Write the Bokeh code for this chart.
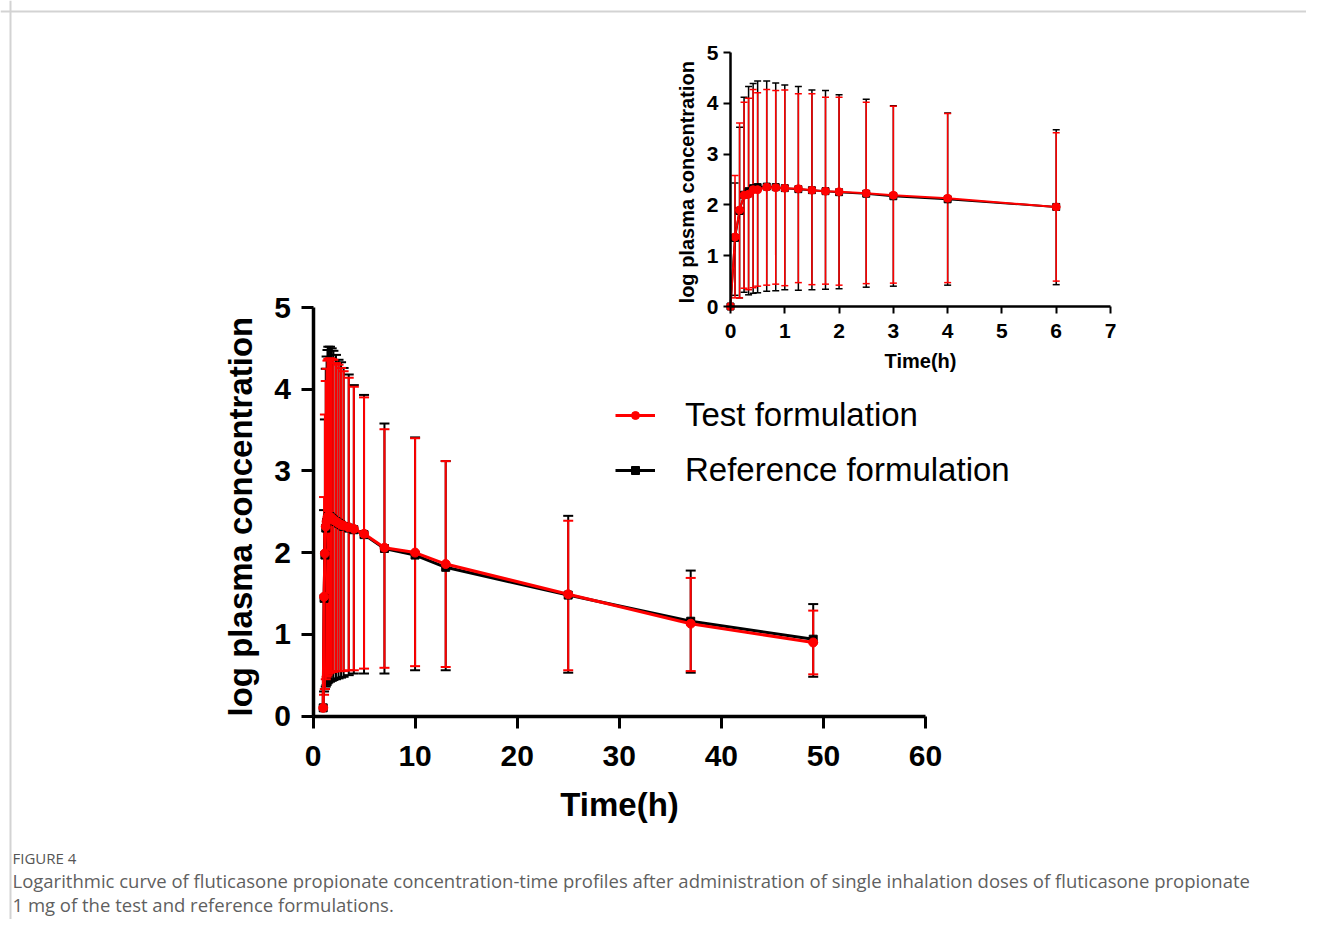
from bokeh.plotting import figure
from bokeh.models import (Range1d, LinearAxis, FixedTicker, ColumnDataSource, Whisker,
                          TeeHead, Legend, LegendItem, Label, Span)
from bokeh.embed import file_html
from bokeh.resources import INLINE

# ---------------- data: main plot ----------------
main_time = [1, 1.083, 1.167, 1.25, 1.333, 1.417, 1.5, 1.667, 1.833, 2, 2.25, 2.5, 2.75, 3,
             3.5, 4, 5, 7, 10, 13, 25, 37, 49]
main_test_mean = [0.10, 1.46, 1.99, 2.32, 2.38, 2.43, 2.45, 2.44, 2.42, 2.40, 2.38, 2.36, 2.34,
                  2.33, 2.31, 2.29, 2.23, 2.06, 2.00, 1.86, 1.49, 1.13, 0.90]
main_test_upper = [0.10, 2.68, 3.69, 4.10, 4.25, 4.35, 4.37, 4.38, 4.37, 4.36, 4.32, 4.30, 4.26,
                   4.22, 4.14, 4.03, 3.90, 3.51, 3.40, 3.12, 2.39, 1.69, 1.29]
main_test_lower = [0.10, 0.26, 0.33, 0.45, 0.48, 0.50, 0.52, 0.53, 0.54, 0.54, 0.55, 0.55, 0.55,
                   0.55, 0.56, 0.56, 0.58, 0.59, 0.61, 0.60, 0.56, 0.55, 0.51]
main_ref_mean = [0.10, 1.44, 1.97, 2.30, 2.37, 2.42, 2.44, 2.44, 2.42, 2.40, 2.38, 2.36, 2.34,
                 2.32, 2.30, 2.28, 2.22, 2.05, 1.97, 1.82, 1.48, 1.16, 0.94]
main_ref_upper = [0.10, 2.52, 3.63, 4.25, 4.40, 4.48, 4.52, 4.52, 4.50, 4.47, 4.42, 4.36, 4.33,
                  4.26, 4.18, 4.05, 3.93, 3.58, 3.41, 3.12, 2.45, 1.78, 1.37]
main_ref_lower = [0.10, 0.30, 0.33, 0.36, 0.38, 0.40, 0.41, 0.42, 0.43, 0.44, 0.45, 0.46, 0.47,
                  0.48, 0.50, 0.52, 0.52, 0.52, 0.56, 0.56, 0.53, 0.53, 0.48]

# ---------------- data: inset ----------------
inset_time = [0, 0.083, 0.167, 0.25, 0.333, 0.417, 0.5, 0.667, 0.833, 1, 1.25, 1.5, 1.75, 2,
              2.5, 3, 4, 6]
inset_test_mean = [0.0, 1.37, 1.90, 2.19, 2.21, 2.30, 2.30, 2.35, 2.34, 2.33, 2.32, 2.29, 2.27,
                   2.26, 2.23, 2.19, 2.13, 1.96]
inset_test_upper = [0.0, 2.58, 3.61, 4.02, 4.10, 4.27, 4.21, 4.27, 4.25, 4.26, 4.19, 4.19, 4.12,
                    4.12, 4.02, 3.94, 3.80, 3.42]
inset_test_lower = [0.0, 0.17, 0.17, 0.36, 0.33, 0.37, 0.40, 0.42, 0.44, 0.41, 0.47, 0.43, 0.44,
                    0.42, 0.45, 0.46, 0.47, 0.50]
inset_ref_mean = [0.0, 1.35, 1.88, 2.20, 2.27, 2.33, 2.35, 2.36, 2.35, 2.33, 2.31, 2.29, 2.27,
                  2.25, 2.22, 2.17, 2.11, 1.96]
inset_ref_upper = [0.0, 2.43, 3.53, 4.12, 4.33, 4.39, 4.44, 4.44, 4.40, 4.36, 4.33, 4.26, 4.25,
                   4.17, 4.08, 3.95, 3.81, 3.48]
inset_ref_lower = [0.0, 0.22, 0.17, 0.28, 0.23, 0.26, 0.27, 0.30, 0.31, 0.33, 0.32, 0.33, 0.34,
                   0.35, 0.38, 0.40, 0.42, 0.43]

main_xticks = [0, 10, 20, 30, 40, 50, 60]
main_yticks = [0, 1, 2, 3, 4, 5]
inset_xticks = [0, 1, 2, 3, 4, 5, 6, 7]
inset_yticks = [0, 1, 2, 3, 4, 5]

x_label = "Time(h)"
y_label = "log  plasma concentration"
legend_labels = ["Test formulation", "Reference formulation"]
fig_label = "FIGURE 4"
caption_lines = [
    "Logarithmic curve of fluticasone propionate concentration-time profiles after administration of single inhalation doses of fluticasone propionate",
    "1 mg of the test and reference formulations.",
]

RED = "#ff0000"
BLACK = "#000000"
FONT = "Liberation Sans"

W, H = 1306, 919
M = 0  # observed offset of the figure on the page


def xrange_from(v0, p0, v1, p1):
    p0 -= M
    p1 -= M
    k = (v1 - v0) / (p1 - p0)
    return Range1d(start=v0 + (0 - p0) * k, end=v0 + (W - p0) * k)


def yrange_from(v0, p0, v1, p1):
    p0 -= M
    p1 -= M
    k = (v1 - v0) / (p1 - p0)
    return Range1d(start=v0 + (H - p0) * k, end=v0 + (0 - p0) * k)


p = figure(width=W, height=H, output_backend="svg", toolbar_location=None,
           x_axis_location=None, y_axis_location=None,
           x_range=xrange_from(0, 312.5, 60, 925), y_range=yrange_from(0, 715.5, 5, 307),
           min_border=0, min_border_left=0, min_border_right=0, min_border_top=0,
           min_border_bottom=0)
p.outline_line_color = None
p.xgrid.visible = False
p.ygrid.visible = False
p.background_fill_color = "white"
p.border_fill_color = "white"

p.extra_x_ranges = {"ix": xrange_from(0, 730, 7, 1110)}
p.extra_y_ranges = {"iy": yrange_from(0, 306, 5, 52)}


def style_axis(ax, label_size, tick_size, line_w, tick_len, tick_w, lab_stand, ax_stand):
    ax.axis_line_width = line_w
    ax.axis_line_color = BLACK
    ax.major_tick_line_width = tick_w
    ax.major_tick_line_color = BLACK
    ax.major_tick_out = tick_len
    ax.major_tick_in = 0
    ax.minor_tick_line_color = None
    ax.major_label_text_font = FONT
    ax.major_label_text_font_style = "bold"
    ax.major_label_text_font_size = tick_size
    ax.major_label_text_color = BLACK
    ax.major_label_standoff = lab_stand
    ax.axis_label_text_font = FONT
    ax.axis_label_text_font_style = "bold"
    ax.axis_label_text_font_size = label_size
    ax.axis_label_text_color = BLACK
    ax.axis_label_standoff = ax_stand


# main axes
mx = LinearAxis(fixed_location=0, bounds=(0, 60), ticker=FixedTicker(ticks=main_xticks),
                axis_label=x_label)
style_axis(mx, "33px", "30px", 3.5, 12, 3, 18, 16)
p.add_layout(mx, "below")
my = LinearAxis(fixed_location=0, bounds=(0, 5), ticker=FixedTicker(ticks=main_yticks),
                axis_label=y_label)
style_axis(my, "33px", "30px", 3.5, 12, 3, 10, 13)
p.add_layout(my, "left")

# inset axes
ix = LinearAxis(fixed_location=0, bounds=(0, 7), ticker=FixedTicker(ticks=inset_xticks),
                axis_label=x_label, x_range_name="ix", y_range_name="iy")
style_axis(ix, "20px", "21px", 2.5, 7, 2, 10, 9)
p.add_layout(ix, "below")
iy = LinearAxis(fixed_location=0, bounds=(0, 5), ticker=FixedTicker(ticks=inset_yticks),
                axis_label=y_label, x_range_name="ix", y_range_name="iy")
style_axis(iy, "20px", "21px", 2.5, 7, 2, 5, 6)
p.add_layout(iy, "left")


def whiskers(t, up, lo, color, lw, head, **rn):
    keep = [i for i in range(len(t)) if up[i] > lo[i]]
    src = ColumnDataSource(dict(t=[t[i] for i in keep], up=[up[i] for i in keep],
                                lo=[lo[i] for i in keep]))
    w = Whisker(base="t", upper="up", lower="lo", source=src, dimension="height",
                line_color=color, line_width=lw,
                upper_head=TeeHead(size=head, line_color=color, line_width=lw),
                lower_head=TeeHead(size=head, line_color=color, line_width=lw), **rn)
    p.add_layout(w)


# main: reference (black) below, test (red) on top
whiskers(main_time, main_ref_upper, main_ref_lower, BLACK, 2, 10)
whiskers(main_time, main_test_upper, main_test_lower, RED, 2, 10)
ref_line = p.line(main_time, main_ref_mean, line_color=BLACK, line_width=3)
ref_pts = p.scatter(main_time, main_ref_mean, marker="square", size=8, fill_color=BLACK,
                    line_color=BLACK)
test_line = p.line(main_time, main_test_mean, line_color=RED, line_width=3)
test_pts = p.scatter(main_time, main_test_mean, marker="circle", size=9, fill_color=RED,
                     line_color=RED)

# inset
rn = dict(x_range_name="ix", y_range_name="iy")
whiskers(inset_time, inset_ref_upper, inset_ref_lower, BLACK, 1.5, 7, **rn)
whiskers(inset_time, inset_test_upper, inset_test_lower, RED, 1.5, 7, **rn)
p.line(inset_time, inset_ref_mean, line_color=BLACK, line_width=2, **rn)
p.scatter(inset_time, inset_ref_mean, marker="square", size=7, fill_color=BLACK,
          line_color=BLACK, **rn)
p.line(inset_time, inset_test_mean, line_color=RED, line_width=2, **rn)
p.scatter(inset_time, inset_test_mean, marker="circle", size=8, fill_color=RED,
          line_color=RED, **rn)

# legend
legend = Legend(items=[LegendItem(label=legend_labels[0], renderers=[test_line, test_pts]),
                       LegendItem(label=legend_labels[1], renderers=[ref_line, ref_pts])],
                location=(615, H - 490), orientation="vertical",
                label_text_font=FONT, label_text_font_size="33px", label_text_color=BLACK,
                glyph_width=40, glyph_height=20, label_height=40, label_standoff=30,
                spacing=15, padding=0, margin=0, border_line_color=None,
                background_fill_alpha=0)
p.add_layout(legend)

# page frame lines
p.add_layout(Span(location=H - 11, location_units="screen", dimension="width",
                  line_color="#d3d3d3", line_width=2))
p.add_layout(Span(location=10, location_units="screen", dimension="height",
                  line_color="#d3d3d3", line_width=2))

# caption
p.add_layout(Label(x=12, y=H - 857, x_units="screen", y_units="screen", text=fig_label,
                   text_font="Open Sans", text_font_size="15px", text_color="#555555",
                   text_baseline="middle"))
for i, line in enumerate(caption_lines):
    p.add_layout(Label(x=12, y=H - (880 + 24 * i), x_units="screen", y_units="screen",
                       text=line, text_font="Open Sans", text_font_size="18.5px",
                       text_color="#5f5f5f", text_baseline="middle"))

open("out.html", "w").write(file_html(p, INLINE))
